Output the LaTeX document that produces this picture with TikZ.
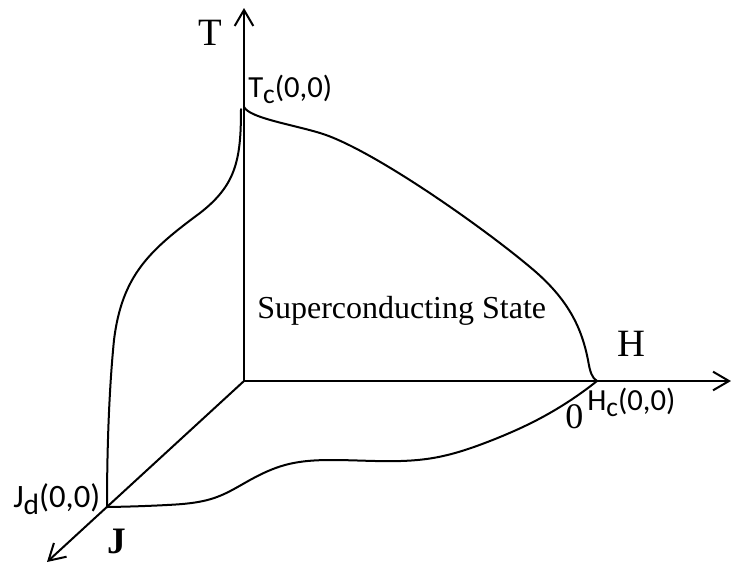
\documentclass[tikz,border=0pt]{standalone}
\usepackage{fontspec}
\setmainfont{Liberation Serif}
\newfontfamily\calibfont{Carlito}
\usetikzlibrary{arrows.meta,hobby}
\newcommand\sublab[2]{#1\raisebox{-0.22em}{\scalebox{0.9}{#2}}(0,0)}
\begin{document}
\begin{tikzpicture}[x=0.75pt,y=-0.75pt,
  axis/.style={line width=1.5pt,-{Straight Barb[length=12pt,width=14pt,line width=1.5pt]}},
  curve/.style={line width=1.5pt,line cap=round,line join=round},
  seriflab/.style={inner sep=0pt,anchor=base west,font=\fontsize{24}{28}\selectfont},
  sanslab/.style={inner sep=0pt,anchor=base west,font=\calibfont\fontsize{23}{27}\selectfont}]
\useasboundingbox (0,0) rectangle (731,565);
\fill[white] (0,0) rectangle (731,565);
% axis points
\coordinate (O) at (244,381);
\coordinate (Ttip) at (244,8);
\coordinate (Htip) at (731,381);
\coordinate (Jtip) at (47,562);
\coordinate (Tc) at (244,107);
\coordinate (Tc2) at (241,109);
\coordinate (Hc) at (597,381);
\coordinate (Jd) at (107,507);
% axes
\draw[axis] (O) -- (Ttip);
\draw[axis] (O) -- (Htip);
\draw[axis] (O) -- (Jtip);
% T-H boundary
\draw[curve] (Tc) .. controls (250,118) and (290,124) .. (320,133)
  .. controls (370,148) and (480,225) .. (530,267)
  .. controls (570,300) and (582,330) .. (588,360)
  .. controls (590,372) and (592,378) .. (Hc);
% T-J boundary
\draw[curve] (Tc2) .. controls (241,160) and (236,185) .. (200,213)
  .. controls (150,250) and (122,275) .. (114,340)
  .. controls (109,390) and (107,450) .. (Jd);
% J-H boundary
\draw[curve] (Jd) to[curve through={(167,505) (217,497) (250,480) (285,465) (333,460) (433,458) (490,441) (537,420)}] (Hc);
% labels
\node[seriflab,font=\fontsize{29}{32}\selectfont] (Tlab) at (198,45) {T};
\node[seriflab,font=\fontsize{29}{32}\selectfont] (Hlab) at (617,356) {H};
\node[seriflab,font=\fontsize{28}{32}\selectfont] (Jlab) at (107,553) {\textbf{J}};
\node[seriflab,font=\fontsize{27}{30}\selectfont] (zero) at (565,428) {0};
\node[seriflab] (state) at (257,318) {Superconducting State};
\node[sanslab] (Tclab) at (248,97) {\sublab{T}{c}};
\node[sanslab] (Hclab) at (587,410) {\sublab{H}{c}};
\node[sanslab,font=\calibfont\fontsize{24.5}{28}\selectfont] (Jdlab) at (13,507) {\sublab{J}{d}};
\end{tikzpicture}
\end{document}
